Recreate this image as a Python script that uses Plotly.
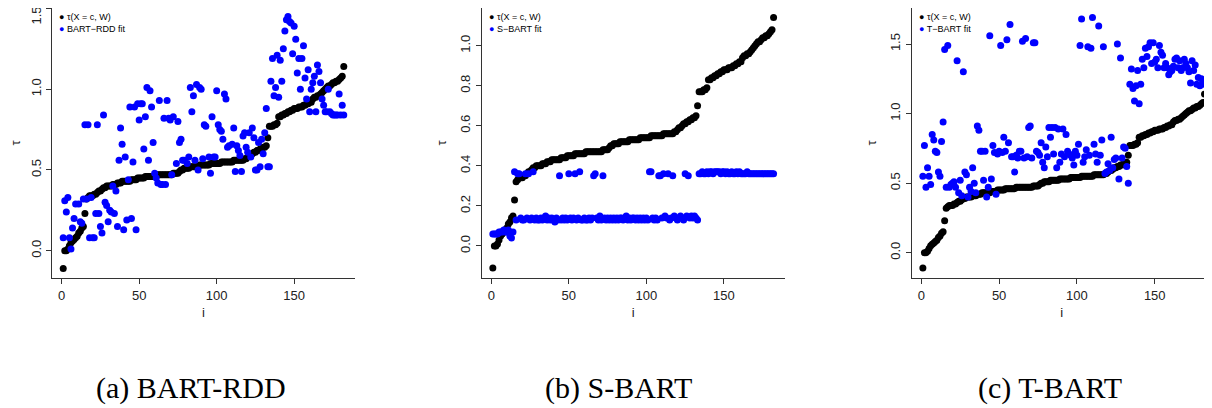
import plotly.graph_objects as go

W, H = 1212, 408
# the page body has an 8px margin, so the figure itself starts at (8, 8)
OFF = 8
FW, FH = W - OFF, H - OFF

# true tau(X = c, W), sorted; same in all three panels
tau_true = [
    -0.11, 0.00, 0.00, 0.01, 0.03, 0.05, 0.06, 0.07, 0.08, 0.09,
    0.11, 0.12, 0.14, 0.15, 0.23, 0.32, 0.33, 0.34, 0.34, 0.34,
    0.35, 0.35, 0.36, 0.37, 0.37, 0.38, 0.39, 0.39, 0.40, 0.40,
    0.40, 0.40, 0.41, 0.41, 0.41, 0.42, 0.42, 0.42, 0.43, 0.43,
    0.43, 0.43, 0.43, 0.43, 0.44, 0.44, 0.44, 0.44, 0.45, 0.45,
    0.45, 0.45, 0.45, 0.46, 0.46, 0.46, 0.46, 0.46, 0.46, 0.46,
    0.47, 0.47, 0.47, 0.47, 0.47, 0.47, 0.47, 0.47, 0.47, 0.47,
    0.47, 0.48, 0.48, 0.48, 0.48, 0.49, 0.50, 0.50, 0.51, 0.51,
    0.51, 0.51, 0.52, 0.52, 0.52, 0.52, 0.52, 0.52, 0.53, 0.53,
    0.53, 0.53, 0.53, 0.53, 0.53, 0.54, 0.54, 0.54, 0.54, 0.54,
    0.54, 0.54, 0.55, 0.55, 0.55, 0.55, 0.55, 0.55, 0.55, 0.55,
    0.56, 0.56, 0.56, 0.56, 0.56, 0.56, 0.56, 0.57, 0.57, 0.58,
    0.59, 0.59, 0.60, 0.61, 0.61, 0.62, 0.62, 0.63, 0.63, 0.64,
    0.64, 0.65, 0.70, 0.77, 0.77, 0.77, 0.78, 0.78, 0.79, 0.83,
    0.83, 0.84, 0.84, 0.85, 0.85, 0.86, 0.86, 0.87, 0.87, 0.88,
    0.88, 0.88, 0.89, 0.89, 0.89, 0.90, 0.90, 0.91, 0.91, 0.92,
    0.92, 0.94, 0.95, 0.95, 0.96, 0.96, 0.97, 0.98, 0.99, 1.00,
    1.01, 1.02, 1.02, 1.03, 1.04, 1.04, 1.05, 1.05, 1.06, 1.07,
    1.08, 1.14,
]
idx_true = list(range(1, len(tau_true) + 1))

# (a) BART-RDD fit
rdd_i = [
    1, 2, 3, 4, 5, 6, 7, 8, 9, 11, 12, 13, 14, 15, 16, 17, 18, 19, 20, 21,
    22, 23, 24, 25, 26, 27, 28, 29, 30, 31, 32, 33, 34, 35, 36, 37, 38, 39, 40, 41,
    42, 43, 44, 45, 46, 47, 48, 49, 50, 51, 52, 53, 54, 55, 56, 57, 58, 59, 60, 61,
    62, 63, 64, 65, 66, 67, 68, 69, 70, 71, 72, 74, 75, 76, 77, 78, 79, 81, 82, 83,
    84, 85, 86, 87, 88, 89, 90, 91, 92, 93, 95, 96, 97, 98, 99, 100, 101, 102, 103, 104,
    105, 106, 107, 108, 110, 111, 112, 113, 114, 115, 116, 117, 118, 119, 120, 121, 122, 123, 124, 125,
    126, 127, 128, 129, 130, 131, 132, 133, 134, 135, 136, 137, 138, 139, 140, 141, 142, 143, 144, 145,
    146, 147, 148, 149, 150, 151, 152, 153, 154, 155, 156, 157, 158, 159, 160, 161, 162, 163, 164, 165,
    166, 167, 168, 169, 170, 171, 172, 173, 174, 175, 176, 177, 178, 179, 180, 181, 182,
]
rdd_fit = [
    0.08, 0.31, 0.24, 0.33, 0.08, 0.01, 0.14, 0.20, 0.29, 0.29, 0.18, 0.17, 0.32, 0.78, 0.32, 0.78, 0.08, 0.33, 0.08, 0.08,
    0.23, 0.78, 0.23, 0.15, 0.11, 0.84, 0.30, 0.28, 0.18, 0.25, 0.24, 0.40, 0.23, 0.37, 0.15, 0.56, 0.76, 0.66, 0.13, 0.58,
    0.19, 0.44, 0.89, 0.20, 0.55, 0.89, 0.13, 0.91, 0.81, 0.91, 0.91, 0.63, 0.83, 1.01, 0.56, 0.99, 0.89, 0.67, 0.48, 0.45,
    0.42, 0.93, 0.41, 0.41, 0.82, 0.41, 0.93, 0.82, 0.81, 0.47, 0.83, 0.54, 0.80, 0.67, 0.69, 0.56, 0.56, 0.54, 0.58, 1.01,
    0.86, 0.96, 0.56, 1.03, 0.50, 1.01, 1.00, 0.57, 0.78, 0.77, 0.58, 0.48, 0.83, 0.58, 0.58, 0.99, 0.78, 0.75, 0.74, 0.69,
    0.97, 0.94, 0.64, 0.65, 0.66, 0.76, 0.49, 0.65, 0.62, 0.59, 0.49, 0.71, 0.73, 0.64, 0.61, 0.73, 0.58, 0.76, 0.70, 0.50,
    0.50, 0.67, 0.52, 0.69, 0.60, 0.73, 0.88, 0.52, 0.52, 1.05, 1.19, 0.96, 1.01, 1.21, 0.95, 1.18, 1.05, 1.25, 1.36, 1.43,
    1.45, 1.42, 1.41, 1.22, 1.39, 1.31, 1.10, 1.19, 1.00, 1.19, 1.27, 1.07, 0.94, 1.12, 0.86, 1.00, 1.04, 1.08, 0.86, 1.15,
    1.11, 1.04, 0.94, 0.90, 0.86, 0.86, 1.00, 0.86, 0.85, 0.84, 0.84, 0.84, 0.84, 0.97, 0.84, 0.90, 0.84,
]

# (b) S-BART fit, i = 1..182
sbart_fit = [
    0.06, 0.06, 0.06, 0.06, 0.07, 0.07, 0.07, 0.08, 0.07, 0.07, 0.08, 0.05, 0.04, 0.07,
    0.37, 0.13, 0.36, 0.36, 0.14, 0.13, 0.13, 0.36, 0.14, 0.36, 0.13, 0.14, 0.37,
    0.13, 0.14, 0.13, 0.13, 0.14, 0.13, 0.14, 0.15, 0.13, 0.14, 0.13, 0.14, 0.13, 0.12, 0.14, 0.13,
    0.35,
    0.13, 0.14, 0.13, 0.14, 0.13,
    0.36,
    0.14, 0.13, 0.14,
    0.36,
    0.13, 0.14,
    0.37,
    0.13, 0.13, 0.14, 0.13, 0.13, 0.14, 0.13, 0.14,
    0.35, 0.36,
    0.14, 0.13, 0.15, 0.13,
    0.35,
    0.14, 0.13, 0.14, 0.13, 0.14, 0.13, 0.14, 0.13, 0.14, 0.13,
    0.14, 0.14, 0.13, 0.14, 0.15, 0.13, 0.14, 0.13, 0.14, 0.14,
    0.13, 0.14, 0.13, 0.14, 0.13, 0.14, 0.13, 0.14, 0.13,
    0.37, 0.37,
    0.14, 0.13, 0.14, 0.13,
    0.35, 0.35,
    0.14,
    0.36,
    0.15, 0.14,
    0.36,
    0.13, 0.14,
    0.35,
    0.15, 0.14, 0.13, 0.14, 0.15, 0.14, 0.13,
    0.36,
    0.15,
    0.35,
    0.14, 0.15, 0.14, 0.15, 0.14, 0.13,
    0.36, 0.36, 0.37, 0.36, 0.36, 0.37, 0.36, 0.37, 0.37, 0.36,
    0.37, 0.37, 0.37, 0.37, 0.36, 0.37, 0.37, 0.36, 0.37, 0.36,
    0.36, 0.37, 0.36, 0.36, 0.37, 0.36, 0.37, 0.36, 0.36, 0.36,
    0.36, 0.37, 0.36, 0.36, 0.36, 0.36, 0.36, 0.36, 0.36, 0.36,
    0.36, 0.36, 0.36, 0.36, 0.36, 0.36, 0.36, 0.36, 0.36,
]
sbart_i = list(range(1, len(sbart_fit) + 1))

# (c) T-BART fit, i = 1..182
tbart_fit = [
    0.55, 0.77, 0.47, 0.61, 0.55, 0.49, 0.85, 0.81, 0.73, 0.72,
    0.58, 0.55, 0.80, 0.94, 1.46, 0.47, 1.49, 0.47, 0.49, 0.50,
    0.51, 0.47, 1.38, 0.43, 0.52, 0.41, 1.30, 0.58, 0.56, 0.40,
    0.47, 0.44, 0.61, 0.50, 0.43, 0.91, 0.88, 0.73, 0.73, 0.52,
    0.73, 0.40, 0.47, 1.56, 0.53, 0.77, 0.72, 0.42, 0.71, 0.73,
    1.49, 0.72, 0.83, 0.73, 1.53, 0.79, 1.64, 0.69, 0.69, 0.58,
    0.70, 0.68, 0.73, 0.73, 1.52, 0.68, 1.54, 0.69, 0.90, 0.91,
    0.68, 1.51, 1.51, 0.73, 0.72, 0.70, 0.79, 0.65, 0.61, 0.76,
    0.69, 0.90, 0.83, 0.90, 0.71, 0.90, 0.61, 0.89, 0.65, 0.71,
    0.89, 0.69, 0.85, 0.73, 0.71, 0.70, 0.68, 0.63, 0.73, 0.70,
    0.78, 1.49, 1.68, 0.65, 0.69, 0.74, 1.48, 0.70, 1.47, 1.69,
    0.78, 0.71, 0.65, 1.63, 0.70, 0.81, 1.48, 0.57, 0.58, 0.64,
    0.59, 0.83, 0.61, 0.67, 0.68, 1.50, 0.53, 1.40, 0.68, 0.76,
    0.75, 0.62, 0.50, 1.21, 1.32, 1.18, 1.09, 1.20, 1.31, 1.07,
    1.21, 1.39, 1.33, 1.47, 1.41, 1.48, 1.51, 1.36, 1.51, 1.37,
    1.39, 1.33, 1.49, 1.44, 1.42, 1.33, 1.36, 1.33, 1.28, 1.30,
    1.31, 1.34, 1.39, 1.40, 1.33, 1.38, 1.31, 1.33, 1.39, 1.36,
    1.33, 1.30, 1.22, 1.38, 1.31, 1.35, 1.21, 1.26, 1.20, 1.25,
    1.23, 1.21,
]
tbart_i = list(range(1, len(tbart_fit) + 1))

fit_names = ["BART\u2212RDD fit", "S\u2212BART fit", "T\u2212BART fit"]
captions = ["(a) BART-RDD", "(b) S-BART", "(c) T-BART"]
x_ticks = [0, 50, 100, 150]
y_ticks = [
    [0.0, 0.5, 1.0],
    [0.0, 0.2, 0.4, 0.6, 0.8, 1.0],
    [0.0, 0.5, 1.0, 1.5],
]
top_tick_a = [1.5]  # sits on the very top edge of panel (a)

# page-pixel boxes of the three plot regions: (left, right, top, bottom)
boxes = [(52, 355, 8, 278), (481.6, 784.8, 8, 278), (911.6, 1212, 8, 278)]
x_ranges = [[-6.24, 189.24], [-6.24, 189.24], [-6.24, 186.8]]
y_ranges = [[-0.169, 1.503], [-0.16, 1.188], [-0.182, 1.759]]
caption_x = [191, 618, 1050]


def px(p):
    return (p - OFF) / FW


def py(p):
    return 1 - (p - OFF) / FH


fits = [(rdd_i, rdd_fit), (sbart_i, sbart_fit), (tbart_i, tbart_fit)]

fig = go.Figure()
tick_font = dict(family="Liberation Sans, Arial, sans-serif", size=13, color="#222")
annotations = []

for k in range(3):
    sfx = "" if k == 0 else str(k + 1)
    xa, ya = "x" + sfx, "y" + sfx
    fig.add_trace(go.Scatter(
        x=idx_true, y=tau_true, xaxis=xa, yaxis=ya, mode="markers",
        marker=dict(color="black", size=7, line=dict(width=0)), showlegend=False,
        cliponaxis=False,
    ))
    fx, fy = fits[k]
    fig.add_trace(go.Scatter(
        x=fx, y=fy, xaxis=xa, yaxis=ya, mode="markers",
        marker=dict(color="#0000FF", size=7, line=dict(width=0)), showlegend=False,
        cliponaxis=False,
    ))

    left, right, top, bottom = boxes[k]
    fig.layout["xaxis" + sfx] = dict(
        domain=[px(left), min(px(right), 1.0)], range=x_ranges[k], anchor=ya,
        showline=True, linecolor="#333", linewidth=1, showgrid=False, zeroline=False,
        ticks="outside", ticklen=5, tickcolor="#333", tickvals=x_ticks, automargin=False,
        tickfont=tick_font, title=dict(text="i", font=tick_font, standoff=6),
    )
    fig.layout["yaxis" + sfx] = dict(
        domain=[py(bottom), py(top)], range=y_ranges[k], anchor=xa,
        showline=True, linecolor="#333", linewidth=1, showgrid=False, zeroline=False,
        ticks="outside", ticklen=5, tickcolor="#333", tickvals=y_ticks[k], automargin=False,
        tickformat=".1f", tickangle=-90, tickfont=tick_font,
        title=dict(text="\u03c4", font=tick_font, standoff=8),
    )

    # legend, top-left inside each panel
    for row, (col, label) in enumerate([("black", "\u03c4(X = c, W)"), ("#0000FF", fit_names[k])]):
        annotations.append(dict(
            xref="paper", yref="paper", x=px(left + 5), y=py(17 + 12 * row),
            xanchor="left", yanchor="middle", showarrow=False,
            text=f"<span style='color:{col}'>\u25cf</span> {label}",
            font=dict(family="Liberation Sans, Arial, sans-serif", size=9, color="black"),
        ))

    annotations.append(dict(
        xref="paper", yref="paper", x=px(caption_x[k]), y=py(388),
        xanchor="center", yanchor="middle", showarrow=False, text=captions[k],
        font=dict(family="Liberation Serif, Times New Roman, serif", size=30, color="black"),
    ))

# the 1.5 tick of panel (a) lies right on the figure's top edge: give it its own
# overlay axis so its label can be nudged down into view
left, right, top, bottom = boxes[0]
fig.layout["yaxis4"] = dict(
    domain=[py(bottom), py(top)], range=y_ranges[0], anchor="x", overlaying="y",
    side="left", showline=False, showgrid=False, zeroline=False, automargin=False,
    ticks="outside", ticklen=5, tickcolor="#333", tickvals=top_tick_a,
    tickformat=".1f", tickangle=-90, tickfont=tick_font,
    ticklabelshift=9, ticklabeloverflow="allow",
)
fig.add_trace(go.Scatter(
    x=[None], y=[None], xaxis="x", yaxis="y4", mode="markers",
    showlegend=False, hoverinfo="skip",
))

fig.update_layout(
    width=FW, height=FH, margin=dict(l=0, r=0, t=0, b=0, autoexpand=False),
    paper_bgcolor="white", plot_bgcolor="white",
    annotations=annotations, showlegend=False,
)

fig.write_html("out.html")
